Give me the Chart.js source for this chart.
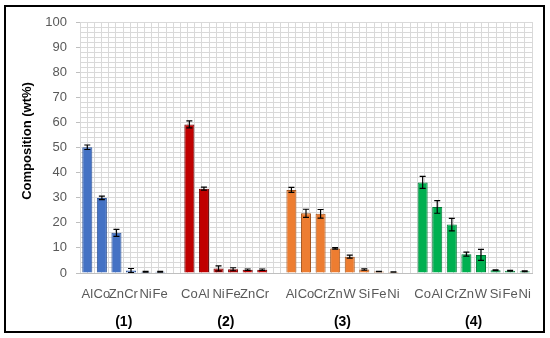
<!DOCTYPE html>
<html>
<head>
<meta charset="utf-8">
<script src="https://cdn.jsdelivr.net/npm/chart.js@4.4.0/dist/chart.umd.min.js"></script>
<style>
  html, body { margin: 0; padding: 0; background: #fff; }
  #wrap { width: 550px; height: 338px; }
</style>
</head>
<body>
<div id="wrap"><canvas id="myChart" width="550" height="338"></canvas></div>
<script>
// Adatok
const group1Labels = ["Al", "Co", "Zn", "Cr", "Ni", "Fe"];
const group1Values = [50.1, 29.9, 16.0, 1.0, 0.5, 0.5];
const group1Errors = [0.9, 0.7, 1.4, 0.8, 0.2, 0.2];

const group2Labels = ["Co", "Al", "Ni", "Fe", "Zn", "Cr"];
const group2Values = [59.2, 33.6, 1.8, 1.5, 1.3, 1.3];
const group2Errors = [1.4, 0.6, 1.0, 0.6, 0.3, 0.3];

const group3Labels = ["Al", "Co", "Cr", "Zn", "W", "Si", "Fe", "Ni"];
const group3Values = [33.1, 23.8, 23.6, 9.8, 6.5, 1.4, 0.6, 0.4];
const group3Errors = [1.0, 1.6, 1.7, 0.3, 0.6, 0.3, 0.1, 0.1];

const group4Labels = ["Co", "Al", "Cr", "Zn", "W", "Si", "Fe", "Ni"];
const group4Values = [36.1, 26.3, 19.3, 7.5, 7.2, 1.1, 0.9, 0.7];
const group4Errors = [2.4, 2.5, 2.5, 0.8, 2.2, 0.2, 0.2, 0.2];

const groupNames = ["(1)", "(2)", "(3)", "(4)"];
const yTicks = [0, 10, 20, 30, 40, 50, 60, 70, 80, 90, 100];

const groupColors = ["#4472C4", "#C00000", "#ED7D31", "#00B050"];
const groupBorders = ["#2F5597", "#6E0000", "#A4561F", "#007A37"];

document.addEventListener("DOMContentLoaded", function () {
    const groups = [
        [group1Labels, group1Values, group1Errors],
        [group2Labels, group2Values, group2Errors],
        [group3Labels, group3Values, group3Errors],
        [group4Labels, group4Values, group4Errors]
    ];

    // Kategóriák összeállítása (üres hely a csoportok között)
    const labels = [];
    const ranges = [];
    groups.forEach((g, gi) => {
        if (gi > 0) labels.push("");
        ranges.push([labels.length, labels.length + g[0].length - 1]);
        g[0].forEach(l => labels.push(l));
    });

    const datasets = groups.map((g, gi) => {
        const data = new Array(labels.length).fill(null);
        const errors = new Array(labels.length).fill(null);
        g[1].forEach((v, k) => {
            data[ranges[gi][0] + k] = v;
            errors[ranges[gi][0] + k] = g[2][k];
        });
        return {
            data: data,
            errors: errors,
            backgroundColor: groupColors[gi],
            borderColor: groupBorders[gi],
            borderWidth: 1,
            barPercentage: 0.69,
            categoryPercentage: 1.0
        };
    });

    // Hibasávok
    const errorBars = {
        id: "errorBars",
        afterDatasetsDraw(chart) {
            const ctx = chart.ctx;
            const y = chart.scales.y;
            ctx.save();
            ctx.strokeStyle = "#000";
            ctx.lineWidth = 1.2;
            chart.data.datasets.forEach((ds, i) => {
                chart.getDatasetMeta(i).data.forEach((bar, j) => {
                    const v = ds.data[j], e = ds.errors[j];
                    if (v == null || e == null) return;
                    const x = bar.x;
                    const t = y.getPixelForValue(v + e);
                    const b = y.getPixelForValue(Math.max(0, v - e));
                    ctx.beginPath();
                    ctx.moveTo(x, t); ctx.lineTo(x, b);
                    ctx.moveTo(x - 3, t); ctx.lineTo(x + 3, t);
                    ctx.moveTo(x - 3, b); ctx.lineTo(x + 3, b);
                    ctx.stroke();
                });
            });
            ctx.restore();
        }
    };

    // Csoportfeliratok, tengelycím és keret
    const decorations = {
        id: "decorations",
        afterDraw(chart) {
            const ctx = chart.ctx;
            const x = chart.scales.x;
            ctx.save();
            ctx.font = "bold 14px 'Liberation Sans'";
            ctx.fillStyle = "#000";
            ctx.textAlign = "center";
            ctx.textBaseline = "middle";
            ranges.forEach((r, gi) => {
                const cx = (x.getPixelForValue(r[0]) + x.getPixelForValue(r[1])) / 2;
                ctx.fillText(groupNames[gi], cx, 322);
            });
            ctx.translate(27, 141);
            ctx.rotate(-Math.PI / 2);
            ctx.font = "bold 13px 'Liberation Sans'";
            ctx.fillText("Composition (wt%)", 0, 0);
            ctx.restore();
            ctx.save();
            ctx.strokeStyle = "#000";
            ctx.lineWidth = 2;
            ctx.strokeRect(5, 6, 539, 326);
            ctx.restore();
        }
    };

    new Chart(document.getElementById("myChart").getContext("2d"), {
        type: "bar",
        data: { labels: labels, datasets: datasets },
        plugins: [errorBars, decorations],
        options: {
            responsive: false,
            animation: false,
            layout: { padding: { left: 0, right: 18, top: 22, bottom: 0 } },
            plugins: {
                legend: { display: false },
                tooltip: { enabled: false }
            },
            scales: {
                x: {
                    stacked: true,
                    grid: { display: false },
                    border: { color: "#bfbfbf" },
                    ticks: {
                        color: "#595959",
                        font: { family: "'Liberation Sans'", size: 13 },
                        padding: 6,
                        maxRotation: 0,
                        autoSkip: false
                    },
                    afterFit(scale) { scale.height = 65; }
                },
                xGrid: {
                    type: "linear",
                    position: "top",
                    min: 0,
                    max: labels.length * 2,
                    grid: { color: "#d9d9d9", drawTicks: false },
                    border: { display: false },
                    ticks: { display: false, stepSize: 1, autoSkip: false },
                    afterFit(scale) { scale.height = 0; }
                },
                y: {
                    min: 0,
                    max: 100,
                    grid: {
                        color: "#d9d9d9",
                        tickLength: 4,
                        tickColor: c => yTicks.includes(c.tick.value) ? "#bfbfbf" : "rgba(0,0,0,0)"
                    },
                    border: { display: false },
                    ticks: {
                        stepSize: 2,
                        autoSkip: false,
                        padding: 9,
                        color: "#595959",
                        font: { family: "'Liberation Sans'", size: 13 },
                        callback: v => yTicks.includes(v) ? v : ""
                    },
                    afterFit(scale) { scale.width = 80; }
                }
            }
        }
    });
});
</script>
</body>
</html>
